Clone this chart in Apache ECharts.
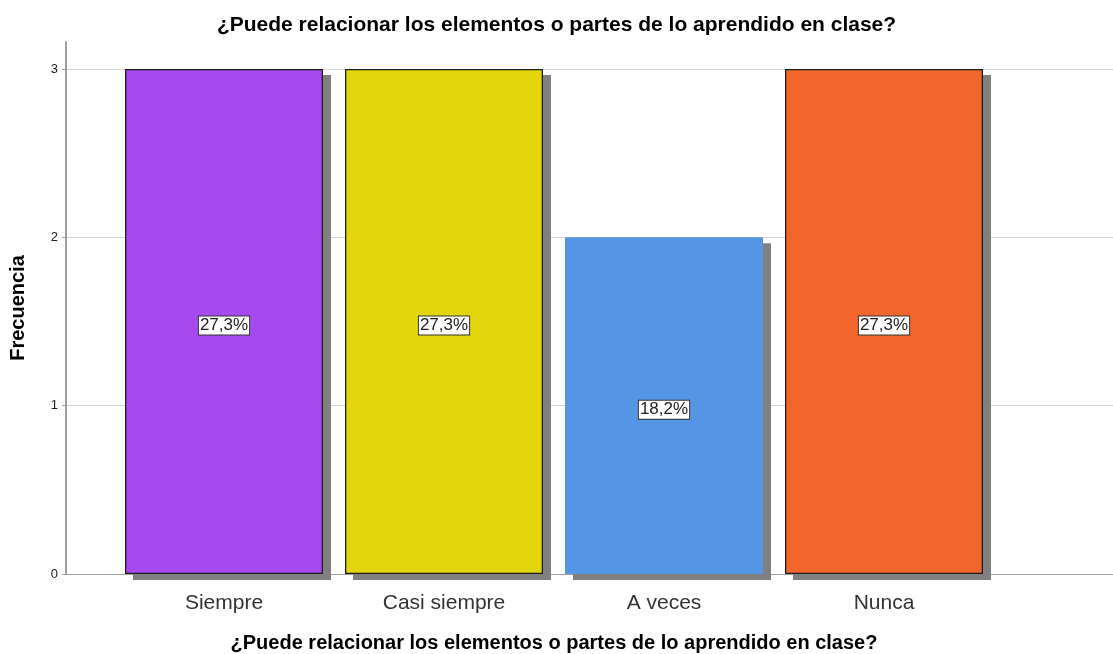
<!DOCTYPE html>
<html>
<head>
<meta charset="utf-8">
<script src="https://cdn.jsdelivr.net/npm/echarts@6/dist/echarts.min.js"></script>
<style>
  html, body { margin: 0; padding: 0; background: #fff; }
  #app { width: 1113px; height: 654px; }
</style>
</head>
<body>
<div id="app"></div>
<script>
// data
const categories = ["Siempre", "Casi siempre", "A veces", "Nunca"];
const frequencies = [3, 3, 2, 3];
const percentLabels = ["27,3%", "27,3%", "18,2%", "27,3%"];
const barColors = ["#a64af0", "#e2d60d", "#5496e3", "#f2662b"];
const hasBorder = [true, true, false, true];

const questionText = "¿Puede relacionar los elementos o partes de lo aprendido en clase?";
const fontFamily = "'Liberation Sans', Arial, sans-serif";

const chart = echarts.init(document.getElementById("app"));

// filled bars cast the grey drop shadow, no stroke so the shadow stays outside
const fillData = frequencies.map((v, i) => ({
  value: v,
  itemStyle: { color: barColors[i] }
}));

// outline + percentage label drawn on top, no shadow
const outlineData = frequencies.map((v, i) => ({
  value: v,
  label: { formatter: percentLabels[i] },
  itemStyle: {
    color: "rgba(0,0,0,0)",
    borderColor: hasBorder[i] ? "#1e1e1e" : "rgba(0,0,0,0)",
    borderWidth: hasBorder[i] ? 1.3 : 0
  }
}));

chart.setOption({
  backgroundColor: "#fff",
  animation: false,
  textStyle: { fontFamily },
  title: {
    text: questionText,
    left: "center",
    top: 10,
    textStyle: { fontSize: 21, fontWeight: "bold", color: "#000", fontFamily }
  },
  grid: [
    // frame: axis lines, ticks and grid lines over full width
    { left: 66, right: 0, top: 42, bottom: 80, outerBoundsMode: "none" },
    // bars
    { left: 114, width: 880, top: 42, bottom: 80, outerBoundsMode: "none" }
  ],
  xAxis: [
    {
      type: "category",
      gridIndex: 0,
      data: [""],
      offset: 4,
      axisLine: { show: true, lineStyle: { color: "#a0a0a0", width: 1 } },
      axisTick: { show: false },
      axisLabel: { show: false }
    },
    {
      type: "category",
      gridIndex: 1,
      data: categories,
      axisLine: { show: false },
      axisTick: { show: false },
      axisLabel: { margin: 19, fontSize: 21, color: "#333", fontFamily },
      name: questionText,
      nameLocation: "middle",
      nameGap: 59,
      nameTextStyle: { fontSize: 20, fontWeight: "bold", color: "#000", fontFamily }
    }
  ],
  yAxis: [
    {
      type: "value",
      gridIndex: 0,
      min: 0,
      max: 3.16,
      interval: 1,
      axisLine: { show: true, lineStyle: { color: "#a0a0a0", width: 2 } },
      axisTick: { show: true, length: 4, lineStyle: { color: "#a0a0a0" } },
      axisLabel: {
        fontSize: 13,
        color: "#222",
        margin: 8,
        showMaxLabel: false,
        formatter: v => (Number.isInteger(v) ? String(v) : "")
      },
      splitLine: { show: true, showMaxLine: false, lineStyle: { color: "#d0d0d0", width: 1 } },
      name: "Frecuencia",
      nameLocation: "middle",
      nameGap: 38,
      nameTextStyle: { fontSize: 20, fontWeight: "bold", color: "#000", fontFamily }
    },
    {
      type: "value",
      gridIndex: 1,
      min: 0,
      max: 3.16,
      show: false
    }
  ],
  series: [
    {
      type: "bar",
      xAxisIndex: 1,
      yAxisIndex: 1,
      data: fillData,
      barCategoryGap: "10%",
      barGap: "-100%",
      itemStyle: {
        shadowColor: "#808080",
        shadowBlur: 0,
        shadowOffsetX: 8,
        shadowOffsetY: 6
      }
    },
    {
      type: "bar",
      xAxisIndex: 1,
      yAxisIndex: 1,
      data: outlineData,
      barCategoryGap: "10%",
      barGap: "-100%",
      label: {
        show: true,
        position: "inside",
        offset: [0, 4],
        fontSize: 17,
        color: "#222",
        fontFamily,
        backgroundColor: "#fff",
        borderColor: "#333",
        borderWidth: 1,
        padding: [1, 1, 0, 1]
      }
    }
  ]
});

window.onresize = function() {
  chart.resize();
};
</script>
</body>
</html>
